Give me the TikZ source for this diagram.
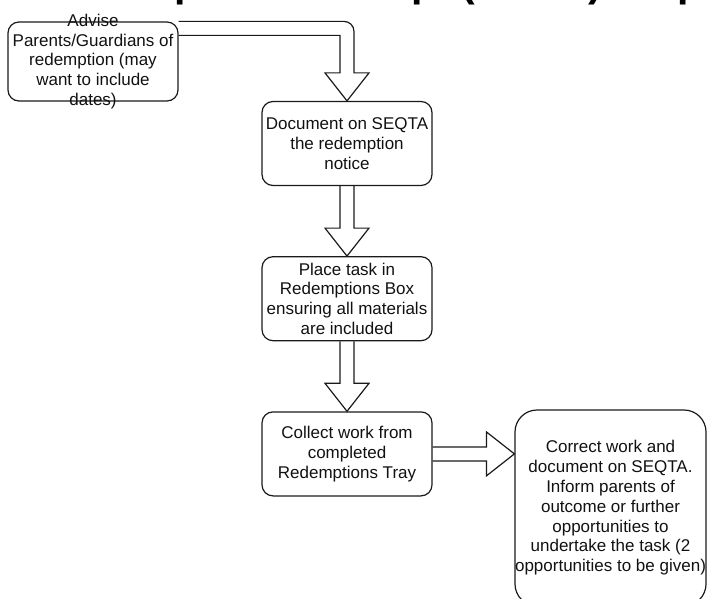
\documentclass[tikz,border=0pt]{standalone}
\usepackage{fontspec}
\setmainfont{Liberation Sans}
\usetikzlibrary{positioning,calc}

\begin{document}
\begin{tikzpicture}[x=1pt, y=1pt,
    stepbox/.style={draw=borderColour, line width=1.2pt, rounded corners=11pt,
        minimum width=170pt, minimum height=84pt, inner sep=0pt, align=center,
        text=textColour, font=\fontsize{17}{19.8}\selectfont},
    stepnote/.style={inner sep=0pt, align=center, text=textColour,
        font=\fontsize{17}{19.8}\selectfont},
    fatarrow/.style={draw=borderColour, line width=1.2pt}]

    % Define colours
    \definecolor{borderColour}{HTML}{1A1A1A}
    \definecolor{textColour}{HTML}{111111}

    % Define arrow sizes
    \def\shaftHalf{7}
    \def\headHalf{22}
    \def\headLength{28}

    % Fix the page size
    \useasboundingbox (0,0) rectangle (707,-599);

    % Title, cut off at the top of the page
    \begin{scope}
        \clip (0,0) rectangle (707,-599);
        \node[anchor=south west, inner sep=0pt, font=\bfseries\fontsize{41}{41}\selectfont] (title) at (38,-5) {Redemption Concept (Tasks) Steps};
    \end{scope}

    % Draw the steps
    \node[stepbox, minimum height=79pt] (advise) at (93,-61.5) {};
    \node[stepnote] (advisetext) at (advise.center) {Advise\\Parents/Guardians of\\redemption (may\\want to include\\dates)};
    \node[stepbox] (document) at (347,-143.5) {Document on SEQTA\\the redemption\\notice};
    \node[stepbox, below=70pt of document] (place) {Place task in\\Redemptions Box\\ensuring all materials\\are included};
    \node[stepbox, below=70pt of place] (collect) {Collect work from\\completed\\Redemptions Tray};
    \node[stepbox, rounded corners=22pt, minimum width=191pt, minimum height=196pt] (correct) at (610.5,-508) {Correct work and\\document on SEQTA.\\Inform parents of\\outcome or further\\opportunities to\\undertake the task (2\\opportunities to be given)};

    % Arrow from the first step, bending down
    \coordinate (top) at (advise.north east);
    \draw[fatarrow] (top) -- ($(document.north |- top)+(\shaftHalf-10,0)$) arc[start angle=90, end angle=0, radius=10]
        -- ($(document.north)+(\shaftHalf,\headLength)$) -- ($(document.north)+(\headHalf,\headLength)$)
        -- (document.north) -- ($(document.north)+(-\headHalf,\headLength)$)
        -- ($(document.north)+(-\shaftHalf,\headLength)$) -- ($(document.north |- top)+(-\shaftHalf,-2*\shaftHalf)$)
        -- ($(top)+(0,-2*\shaftHalf)$);

    % Arrows down the column
    \foreach \from/\to in {document/place, place/collect}
        \draw[fatarrow] ($(\from.south)+(-\shaftHalf,0)$) -- ($(\to.north)+(-\shaftHalf,\headLength)$)
            -- ($(\to.north)+(-\headHalf,\headLength)$) -- (\to.north) -- ($(\to.north)+(\headHalf,\headLength)$)
            -- ($(\to.north)+(\shaftHalf,\headLength)$) -- ($(\from.south)+(\shaftHalf,0)$);

    % Arrow to the last step
    \coordinate (tip) at (correct.west |- collect.east);
    \draw[fatarrow] ($(collect.east)+(0,\shaftHalf)$) -- ($(tip)+(-\headLength,\shaftHalf)$)
        -- ($(tip)+(-\headLength,\headHalf)$) -- (tip) -- ($(tip)+(-\headLength,-\headHalf)$)
        -- ($(tip)+(-\headLength,-\shaftHalf)$) -- ($(collect.east)+(0,-\shaftHalf)$);

\end{tikzpicture}
\end{document}
